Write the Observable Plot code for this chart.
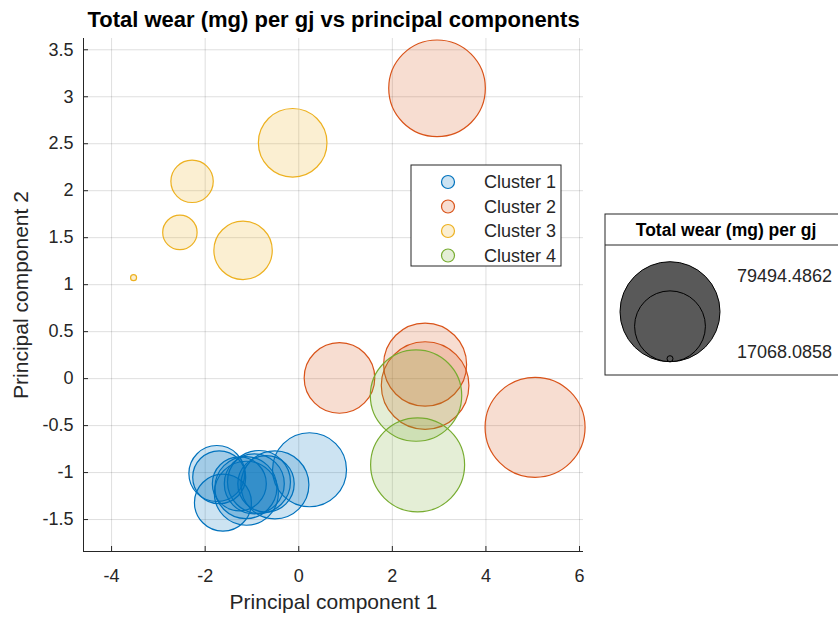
<!DOCTYPE html>
<html>
<head>
<meta charset="utf-8">
<script src="https://cdn.jsdelivr.net/npm/d3@7"></script>
<script src="https://cdn.jsdelivr.net/npm/@observablehq/plot@0.6"></script>
<style>
  html, body { margin: 0; padding: 0; background: #fff; }
  #chart { width: 838px; height: 620px; }
  svg { font-family: "Liberation Sans", Arial, Helvetica, sans-serif; }
</style>
</head>
<body>
<div id="chart"></div>
<script>
// Principal component scores and total wear (mg) per gj, by cluster
const c1PC1 = [0.23, -1.75, -1.70, -1.62, -1.27, -1.13, -1.12, -0.95, -0.85, -0.70, -0.51];
const c1PC2 = [-0.97, -1.01, -1.05, -1.32, -1.12, -1.16, -1.22, -1.12, -1.10, -1.12, -1.13];
const c1Wear = [51150, 36490, 34440, 37190, 35110, 40930, 42500, 39400, 41700, 36800, 45810];

const c2PC1 = [2.955, 0.87, 2.70, 2.70, 5.05];
const c2PC2 = [3.09, 0.007, 0.149, -0.074, -0.518];
const c2Wear = [75310, 48070, 60000, 64920, 79494.4862];

const c3PC1 = [-0.13, -2.28, -2.54, -1.19, -3.53];
const c3PC2 = [2.51, 2.10, 1.556, 1.365, 1.074];
const c3Wear = [46330, 28100, 24260, 38210, 17068.0858];

const c4PC1 = [2.506, 2.54];
const c4PC2 = [-0.18, -0.918];
const c4Wear = [69180, 72200];

const clusterNames = ["Cluster 1", "Cluster 2", "Cluster 3", "Cluster 4"];
const clusterColors = ["#0072BD", "#D95319", "#EDB120", "#77AC30"];

const xTicks = [-4, -2, 0, 2, 4, 6];
const yTicks = [-1.5, -1, -0.5, 0, 0.5, 1, 1.5, 2, 2.5, 3, 3.5];
const xDomain = [-4.6, 6.085];
const yDomain = [-1.84, 3.62];

const titleText = "Total wear (mg) per gj vs principal components";
const xLabel = "Principal component 1";
const yLabel = "Principal component 2";
const sizeTitle = "Total wear (mg) per gj";

// Build one table per cluster
const clusters = [
  [c1PC1, c1PC2, c1Wear],
  [c2PC1, c2PC2, c2Wear],
  [c3PC1, c3PC2, c3Wear],
  [c4PC1, c4PC2, c4Wear]
].map(([xs, ys, ws], k) => xs.map((x, i) => ({pc1: x, pc2: ys[i], wear: ws[i], cluster: clusterNames[k]})));

// Bubble area grows linearly with wear, from a 3px radius at the minimum to 50px at the maximum
const allWear = [c1Wear, c2Wear, c3Wear, c4Wear].flat();
const wMin = d3.min(allWear), wMax = d3.max(allWear);
const rMin = 3, rMax = 50;
const offset = rMin * rMin * (wMax - wMin) / (rMax * rMax - rMin * rMin);
const shiftWear = (v) => v - wMin + offset;
const rOptions = {type: "sqrt", domain: [0, shiftWear(wMax)], range: [0, rMax]};

const ink = "#262626";
const gridStyle = {stroke: ink, strokeOpacity: 0.15, strokeWidth: 1};

const chart = Plot.plot({
  width: 838,
  height: 620,
  marginLeft: 83,
  marginRight: 255,
  marginTop: 38,
  marginBottom: 69,
  style: {fontFamily: '"Liberation Sans", Arial, Helvetica, sans-serif', color: ink, fontSize: "18px", background: "#fff"},
  x: {domain: xDomain},
  y: {domain: yDomain},
  r: {...rOptions, transform: shiftWear},
  marks: [
    Plot.gridX(xTicks, gridStyle),
    Plot.gridY(yTicks, gridStyle),
    // tick labels
    Plot.axisX(xTicks, {tickSize: 0, tickPadding: 18, tickFormat: d => String(d), label: null, fontSize: 18}),
    Plot.axisY(yTicks, {tickSize: 0, tickPadding: 10, tickFormat: d => String(d), label: null, fontSize: 18}),
    // inward tick marks
    Plot.axisX(xTicks, {tickSize: 5, dy: -5, tickFormat: () => "", label: null, stroke: ink}),
    Plot.axisY(yTicks, {tickSize: 5, dx: 5, tickFormat: () => "", label: null, stroke: ink}),
    // axis lines
    Plot.ruleX([xDomain[0]], {stroke: ink, strokeWidth: 1}),
    Plot.ruleY([yDomain[0]], {stroke: ink, strokeWidth: 1}),
    // bubbles, one layer per cluster
    ...clusters.map((rows, k) => Plot.dot(rows, {
      x: "pc1", y: "pc2", r: "wear",
      fill: clusterColors[k], fillOpacity: 0.2,
      stroke: clusterColors[k], strokeWidth: 1.2
    })),
    // titles
    Plot.text([titleText], {text: d => d, frameAnchor: "top", dy: -27, fontSize: 22, fontWeight: "bold", fill: "#000"}),
    Plot.text([xLabel], {text: d => d, frameAnchor: "bottom", dy: 57, fontSize: 21, fill: ink}),
    Plot.text([yLabel], {text: d => d, frameAnchor: "left", textAnchor: "middle", lineAnchor: "middle", dx: -62, rotate: -90, fontSize: 21, fill: ink})
  ]
});

document.getElementById("chart").appendChild(chart);

const svg = d3.select(chart);

// Cluster legend
const leg = svg.append("g").attr("transform", "translate(411,165)")
  .attr("text-anchor", "start").attr("font-size", 18);
leg.append("rect").attr("width", 150).attr("height", 101)
  .attr("fill", "#fff").attr("stroke", ink).attr("stroke-width", 1);
clusterNames.forEach((name, i) => {
  const cy = 17 + i * 24.5;
  leg.append("circle").attr("cx", 37).attr("cy", cy).attr("r", 6.5)
    .attr("fill", clusterColors[i]).attr("fill-opacity", 0.2)
    .attr("stroke", clusterColors[i]).attr("stroke-width", 1.2);
  leg.append("text").attr("x", 73).attr("y", cy).attr("dy", "0.35em")
    .attr("text-anchor", "start").attr("font-size", 18).attr("fill", ink).text(name);
});

// Bubble size legend, sized with the same r scale
const rScale = Plot.scale({r: rOptions});
const rOf = (v) => rScale.apply(shiftWear(v));
const sizeLeg = svg.append("g").attr("transform", "translate(605,214)").attr("font-size", 18);
sizeLeg.append("rect").attr("width", 240).attr("height", 161)
  .attr("fill", "#fff").attr("stroke", ink).attr("stroke-width", 1);
sizeLeg.append("line").attr("x1", 0).attr("x2", 240).attr("y1", 31).attr("y2", 31)
  .attr("stroke", ink).attr("stroke-width", 1);
sizeLeg.append("text").attr("x", 121).attr("y", 16).attr("dy", "0.35em")
  .attr("text-anchor", "middle").attr("font-size", 17.5).attr("font-weight", "bold")
  .attr("fill", "#000").text(sizeTitle);
const legendValues = [wMax, (wMax + wMin) / 2, wMin];
const baseY = 147.7;
legendValues.forEach(v => {
  const r = rOf(v);
  sizeLeg.append("circle").attr("cx", 65).attr("cy", baseY - r).attr("r", r)
    .attr("fill", "#595959").attr("stroke", "#000").attr("stroke-width", 1);
});
const fmt = d3.format(".4f");
sizeLeg.append("text").attr("x", 132).attr("y", 62).attr("dy", "0.35em")
  .attr("text-anchor", "start").attr("font-size", 18).attr("fill", ink).text(fmt(wMax));
sizeLeg.append("text").attr("x", 132).attr("y", 138).attr("dy", "0.35em")
  .attr("text-anchor", "start").attr("font-size", 18).attr("fill", ink).text(fmt(wMin));
</script>
</body>
</html>
